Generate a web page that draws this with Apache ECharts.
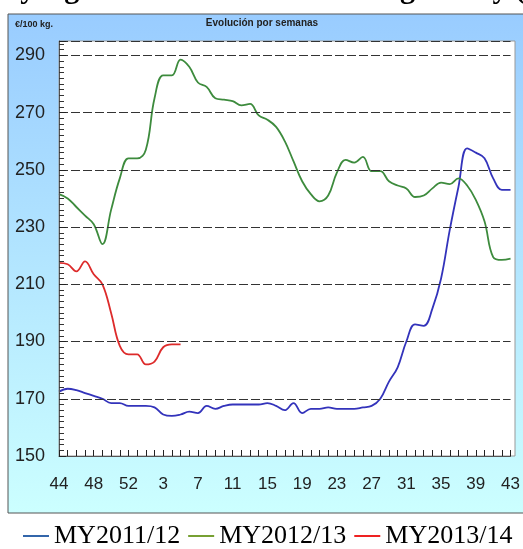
<!DOCTYPE html>
<html>
<head>
<meta charset="utf-8">
<script src="https://cdn.jsdelivr.net/npm/echarts@6/dist/echarts.min.js"></script>
<style>
  html, body { margin: 0; padding: 0; background: #fff; }
  #chart { width: 523px; height: 549px; }
</style>
</head>
<body>
<div id="chart"></div>
<script>
// semanas: 44..53 y 1..43
var weeks = [];
for (var w = 44; w <= 53; w++) weeks.push(String(w));
for (var w2 = 1; w2 <= 43; w2++) weeks.push(String(w2));

var seriesNames = ['MY2011/12', 'MY2012/13', 'MY2013/14'];

var my2011 = [172.5, 173.5, 173, 172, 171, 170, 168.5, 168.5, 167.5, 167.5,
  167.5, 167, 164.5, 164, 164.5, 165.5, 165, 167.5, 166.5, 167.5,
  168, 168, 168, 168, 168.5, 167.5, 166, 168.5, 165, 166.5,
  166.5, 167, 166.5, 166.5, 166.5, 167, 167.5, 170, 176, 181,
  190, 196, 195.5, 201.5, 212, 229, 244, 257.5, 256, 254,
  247, 243, 243];

var my2012 = [241.5, 240, 237, 234, 231, 224, 236, 247, 254, 254,
  257, 275, 283, 283, 288.5, 286, 280.5, 279, 275, 274.5,
  274, 272.5, 273, 269, 267.5, 265, 260, 253, 246, 241.5,
  239, 241, 249, 253.5, 252.5, 254.5, 249.5, 249.5, 246, 244.5,
  243.5, 240.5, 241, 243.5, 245.5, 245, 247, 244.5, 239.5, 232,
  219.5, 218.5, 219];

var my2013 = [217.5, 217, 214.5, 218, 213.5, 210, 200, 188.5, 185.5, 185.5,
  182, 183, 188, 189, 189];

var lineColors = ['#3333bb', '#3d8b3d', '#dd2b2b'];
var legendColors = ['#3366aa', '#77a033', '#ee2222'];

var chart = echarts.init(document.getElementById('chart'));

var option = {
  animation: false,
  graphic: [
    {
      type: 'rect',
      z: -10,
      shape: { x: 8, y: 14, width: 530, height: 499 },
      style: {
        fill: new echarts.graphic.LinearGradient(0, 0, 0, 1, [
          { offset: 0, color: '#99ccff' },
          { offset: 1, color: '#ccffff' }
        ]),
        stroke: '#555',
        lineWidth: 1
      }
    },
    {
      type: 'rect',
      z: -9,
      shape: { x: 59, y: 41, width: 456, height: 415 },
      style: { fill: '#fff', stroke: '#999', lineWidth: 1 }
    },
    {
      type: 'text',
      left: 'center',
      top: -25,
      style: {
        text: 'Quality Agricultural Prices - Malting Barley (Avg)',
        font: 'bold 30px "Liberation Serif"',
        fill: '#000'
      }
    },
    {
      type: 'text',
      x: 262,
      y: 23,
      style: {
        text: 'Evolución por semanas',
        font: 'bold 10px "Liberation Sans"',
        fill: '#222',
        align: 'center',
        verticalAlign: 'middle'
      }
    },
    {
      type: 'text',
      x: 15,
      y: 25,
      style: {
        text: '€/100 kg.',
        font: 'bold 9px "Liberation Sans"',
        fill: '#222',
        verticalAlign: 'middle'
      }
    }
  ],
  legend: {
    left: 18,
    top: 518,
    itemWidth: 26,
    itemHeight: 2,
    itemGap: 8,
    icon: 'rect',
    textStyle: { fontFamily: 'Liberation Serif', fontSize: 26, color: '#000' },
    data: seriesNames.map(function (n, i) {
      return { name: n, itemStyle: { color: legendColors[i] } };
    })
  },
  grid: {
    left: 59,
    right: 8,
    top: 41,
    bottom: 93
  },
  xAxis: {
    type: 'category',
    data: weeks,
    boundaryGap: false,
    z: 5,
    axisLine: { lineStyle: { color: '#555' } },
    axisTick: { inside: true, length: 6, interval: 0, lineStyle: { color: '#222' } },
    axisLabel: { interval: 3, fontFamily: 'Liberation Sans', fontSize: 17, color: '#222', margin: 20 },
    splitLine: { show: false }
  },
  yAxis: {
    type: 'value',
    min: 150,
    max: 295,
    interval: 20,
    z: 5,
    axisLine: { show: true, lineStyle: { color: '#555' } },
    axisTick: { show: true, inside: true, length: 7, lineStyle: { color: '#222' } },
    minorTick: { show: true, splitNumber: 10, length: 5, lineStyle: { color: '#333', width: 1 } },
    axisLabel: {
      fontFamily: 'Liberation Sans',
      fontSize: 18,
      color: '#222',
      margin: 14,
      formatter: function (v) { return (v - 150) % 20 === 0 ? String(v) : ''; }
    },
    splitLine: { lineStyle: { color: '#333', type: [9, 3], width: 1 } }
  },
  series: [
    { name: seriesNames[0], type: 'line', data: my2011, smooth: 0.4, symbol: 'none',
      lineStyle: { color: lineColors[0], width: 1.8 }, itemStyle: { color: lineColors[0] } },
    { name: seriesNames[1], type: 'line', data: my2012, smooth: 0.4, symbol: 'none',
      lineStyle: { color: lineColors[1], width: 1.8 }, itemStyle: { color: lineColors[1] } },
    { name: seriesNames[2], type: 'line', data: my2013, smooth: 0.4, symbol: 'none',
      lineStyle: { color: lineColors[2], width: 1.8 }, itemStyle: { color: lineColors[2] } }
  ]
};

chart.setOption(option);
</script>
</body>
</html>
